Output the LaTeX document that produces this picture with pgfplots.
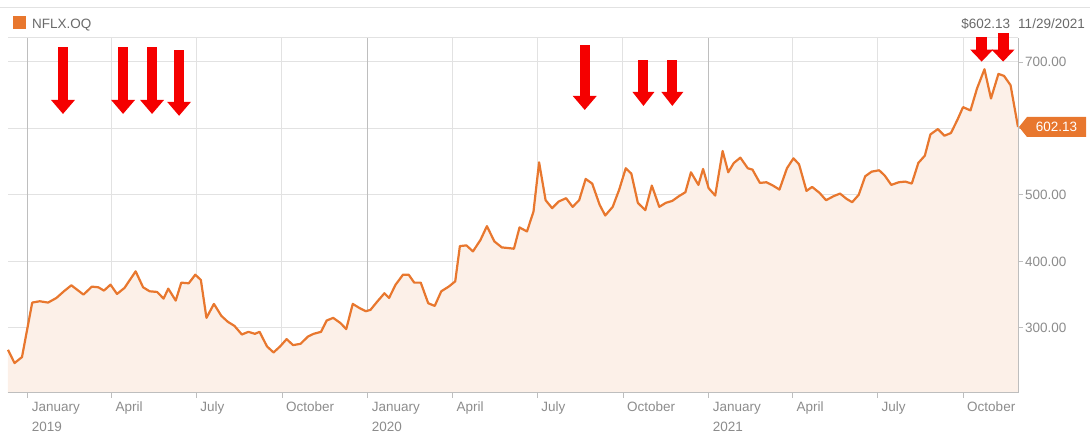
\documentclass[border=0pt]{standalone}
\usepackage{fontspec}
\setmainfont{Liberation Sans}
\usepackage{pgfplots}
\usepackage{pgfplotstable}
\pgfplotsset{compat=1.18}
\usetikzlibrary{calc}
\definecolor{lineor}{RGB}{232,119,46}
\definecolor{fillor}{RGB}{252,240,232}
\definecolor{gridc}{RGB}{226,226,226}
\definecolor{yeargrid}{RGB}{190,190,190}
\definecolor{labc}{RGB}{140,140,140}
\definecolor{hdrc}{RGB}{105,105,105}
\definecolor{arr}{RGB}{245,0,0}

% day (0 = 1 Jan 2019), close price
\pgfplotstableread{
d v
-21 267
-14 247
-6 256
5 338
13 340
22 338
31 345
39 355
47 364
60 350
69 362
76 361
82 356
89 365
96 351
104 360
116 385
124 361
131 355
139 354
146 344
151 359
159 341
165 368
173 367
180 380
186 372
192 315
200 336
208 318
215 309
222 303
230 290
237 294
244 291
249 294
257 272
264 263
271 272
278 283
285 274
293 276
301 287
307 291
315 294
321 311
328 315
336 307
342 298
349 336
356 330
363 325
368 327
375 339
383 352
388 345
395 365
403 380
409 380
415 368
422 368
430 337
437 333
444 355
452 362
459 370
464 423
471 424
478 415
486 432
493 453
501 430
509 421
516 420
522 419
528 451
536 445
543 475
549 549
556 492
563 480
570 490
578 495
585 482
592 492
599 524
606 517
614 485
620 469
628 482
635 508
642 540
648 532
655 488
663 477
670 514
678 482
685 488
692 491
699 498
706 504
712 534
720 515
725 539
731 510
738 499
746 566
752 534
758 548
765 556
773 540
778 538
786 518
793 519
800 514
807 508
815 540
822 555
828 546
836 506
842 512
850 503
857 492
865 498
872 502
879 494
885 489
892 500
899 528
906 535
914 537
920 529
927 515
935 519
942 520
949 517
956 548
963 559
969 591
977 599
984 589
991 593
998 613
1004 632
1012 627
1019 660
1027 689
1034 645
1042 682
1048 679
1055 665
1063 602.13
}\nflx

\newcommand{\redarrow}[6]{% x, ytop, ytip, headlen, half shaft, half head
  \fill[arr] ($(axis cs:#1,#2)+(-#5,0pt)$) rectangle ($(axis cs:#1,#3)+(#5,#4-0.5pt)$);
  \fill[arr] ($(axis cs:#1,#3)+(-#6,#4)$) -- ($(axis cs:#1,#3)+(#6,#4)$) -- (axis cs:#1,#3) -- cycle;}

\begin{document}
\begin{tikzpicture}
\path[use as bounding box] (0pt,0pt) rectangle (1090pt,435pt);
% header
\draw[gridc, line width=1pt] (0pt,427pt) -- (1090pt,427pt);
\fill[lineor] (12.5pt,406pt) rectangle (25.5pt,419pt);
\node[anchor=base west, inner sep=0pt, text=hdrc, font=\fontsize{13.5}{15}\selectfont] at (32pt,406.5pt) {NFLX.OQ};
\node[anchor=base east, inner sep=0pt, text=hdrc, font=\fontsize{13.5}{15}\selectfont] at (1085pt,406.5pt) {\$602.13\hspace{8pt}11/29/2021};
\begin{axis}[
  at={(8pt,42pt)}, anchor=south west,
  scale only axis, width=1010pt, height=355pt,
  xmin=-21, xmax=1063, ymin=202, ymax=736,
  axis line style={draw=none},
  xtick={90,181,273,456,547,639,821,912,1004},
  xticklabels={April,July,October,April,July,October,April,July,October},
  extra x ticks={0,365,731},
  extra x tick labels={January\\2019,January\\2020,January\\2021},
  extra x tick style={grid style={yeargrid, line width=1pt}},
  ytick={300,400,500,600,700},
  yticklabels={300.00,400.00,500.00,,700.00},
  xtick pos=left, ytick pos=right, yticklabel pos=right,
  tick align=outside,
  major tick length=5pt,
  tick style={draw=yeargrid, line width=0.8pt},
  grid=major,
  grid style={gridc, line width=1pt},
  xticklabel style={anchor=north west, align=left, inner sep=0pt, xshift=4pt, yshift=-4pt, text=labc, font=\fontsize{13.5}{20}\selectfont},
  yticklabel style={anchor=west, inner sep=0pt, xshift=2pt, text=labc, font=\fontsize{13.5}{15}\selectfont},
  clip=false,
]
\addplot[fill=fillor, draw=none] table[x=d, y=v] {\nflx} \closedcycle;
\addplot[lineor, line width=2.2pt, line join=round] table[x=d, y=v] {\nflx};
\draw[gridc, line width=1pt] (rel axis cs:0,1) -- (rel axis cs:1,1);
\draw[yeargrid, line width=1pt] (rel axis cs:0,0) -- (rel axis cs:1,0);
\draw[yeargrid, line width=1pt] (rel axis cs:1,0) -- (rel axis cs:1,1);
\coordinate (T) at (axis cs:1063,602.13);
% arrows
\redarrow{38}{722.6}{621.8}{14pt}{5pt}{12pt}
\redarrow{102.5}{722.6}{621.8}{14pt}{5pt}{12pt}
\redarrow{133.6}{722.6}{621.8}{14pt}{5pt}{12pt}
\redarrow{162.6}{718}{619}{14pt}{5pt}{12pt}
\redarrow{598}{725.6}{627.8}{14pt}{5pt}{12pt}
\redarrow{661}{703}{633.8}{14pt}{5pt}{11pt}
\redarrow{692}{703}{633.8}{14pt}{5pt}{11pt}
\redarrow{1024}{738}{700.5}{12pt}{5.5pt}{11.5pt}
\redarrow{1047}{744}{700.5}{12pt}{5.5pt}{11.5pt}
\end{axis}
% price tag at the last close
\fill[lineor] ($(T)+(1pt,0pt)$) -- ($(T)+(9pt,10pt)$) -- ($(T)+(68pt,10pt)$) -- ($(T)+(68pt,-10pt)$) -- ($(T)+(9pt,-10pt)$) -- cycle;
\node[anchor=center, text=white, inner sep=0pt, font=\fontsize{13.5}{15}\selectfont] at ($(T)+(38.5pt,0pt)$) {602.13};
\end{tikzpicture}
\end{document}
